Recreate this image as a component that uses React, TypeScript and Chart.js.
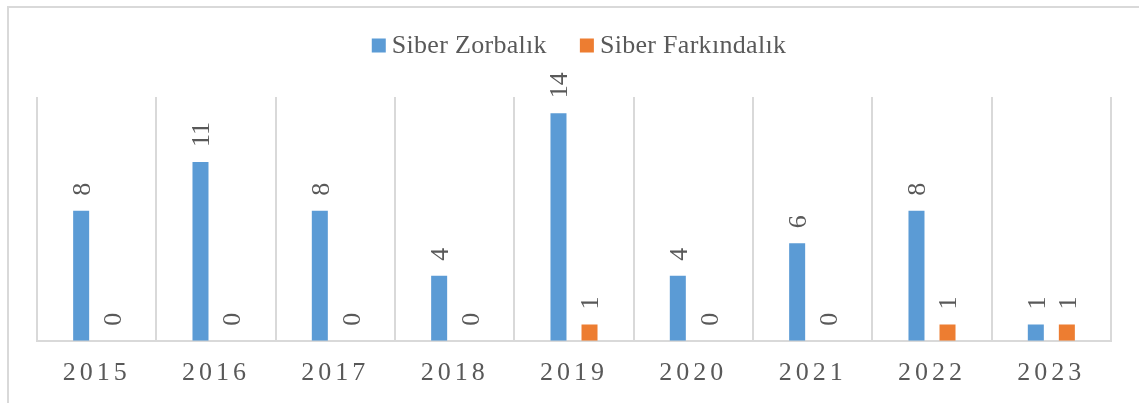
import React, { useEffect, useRef } from "react";
import { Chart, registerables } from "chart.js";

Chart.register(...registerables);

const categories = ["2015", "2016", "2017", "2018", "2019", "2020", "2021", "2022", "2023"];
const siberZorbalik = [8, 11, 8, 4, 14, 4, 6, 8, 1];
const siberFarkindalik = [0, 0, 0, 0, 1, 0, 0, 1, 1];
const seriesNames = ["Siber Zorbalık", "Siber Farkındalık"];
const seriesColors = ["#5B9BD5", "#ED7D31"];

const FONT = "'Liberation Serif', 'Times New Roman', serif";
const TEXT = "#595959";
const GRID = "#d9d9d9";

const frameAndSpacing = {
  id: "frameAndSpacing",
  beforeDraw(chart: any) {
    const ctx = chart.ctx;
    ctx.save();
    ctx.strokeStyle = GRID;
    ctx.lineWidth = 2;
    ctx.beginPath();
    ctx.moveTo(8, chart.height);
    ctx.lineTo(8, 7);
    ctx.lineTo(chart.width, 7);
    ctx.stroke();
    ctx.restore();
    ctx.letterSpacing = "4px";
  },
  beforeDatasetsDraw(chart: any) {
    chart.ctx.letterSpacing = "0px";
  },
};

const valueLabels = {
  id: "valueLabels",
  afterDatasetsDraw(chart: any) {
    const ctx = chart.ctx;
    const size = 26;
    ctx.save();
    ctx.letterSpacing = "0px";
    ctx.font = `${size}px ${FONT}`;
    ctx.fillStyle = TEXT;
    ctx.textAlign = "left";
    ctx.textBaseline = "alphabetic";
    chart.data.datasets.forEach((ds: any, i: number) => {
      const meta = chart.getDatasetMeta(i);
      meta.data.forEach((el: any, j: number) => {
        const v = ds.data[j];
        ctx.save();
        ctx.translate(el.x, el.y - 15);
        ctx.rotate(-Math.PI / 2);
        ctx.fillText(String(v), 0, size * 0.34);
        ctx.restore();
      });
    });
    ctx.restore();
  },
};

const customLegend = {
  id: "customLegend",
  afterDraw(chart: any) {
    const ctx = chart.ctx;
    const size = 26;
    const box = 14;
    const textGap = 6;
    const itemGap = 33;
    ctx.save();
    ctx.letterSpacing = "0.3px";
    ctx.font = `${size}px ${FONT}`;
    const widths = seriesNames.map((n) => box + textGap + ctx.measureText(n).width);
    const total = widths.reduce((a, b) => a + b, 0) + itemGap * (seriesNames.length - 1);
    let x = chart.width / 2 + 9.5 - total / 2;
    const baseline = 53;
    seriesNames.forEach((n, i) => {
      ctx.fillStyle = seriesColors[i];
      ctx.fillRect(x, 38.5, box, box);
      ctx.fillStyle = TEXT;
      ctx.textAlign = "left";
      ctx.textBaseline = "alphabetic";
      ctx.fillText(n, x + box + textGap, baseline);
      x += widths[i] + itemGap;
    });
    ctx.restore();
  },
};

export default function App() {
  const ref = useRef<HTMLCanvasElement>(null);
  useEffect(() => {
    const canvas = ref.current!;
    const chart = new Chart(canvas, {
      type: "bar",
      data: {
        labels: categories,
        datasets: [
          { label: seriesNames[0], data: siberZorbalik, backgroundColor: seriesColors[0] },
          { label: seriesNames[1], data: siberFarkindalik, backgroundColor: seriesColors[1] },
        ],
      },
      options: {
        animation: false,
        responsive: false,
        events: [],
        layout: { padding: { left: 37, right: 28, top: 97, bottom: -3 } },
        datasets: { bar: { categoryPercentage: 0.52, barPercentage: 0.516 } },
        plugins: {
          legend: { display: false },
          tooltip: { enabled: false },
          title: { display: false },
        },
        scales: {
          x: {
            grid: { display: true, color: GRID, lineWidth: 2, drawTicks: false, offset: true },
            border: { display: true, color: GRID, width: 2 },
            ticks: { color: TEXT, font: { family: FONT, size: 26 }, padding: 17, maxRotation: 0 },
          },
          y: { display: false, min: 0, max: 15 },
        },
      },
      plugins: [frameAndSpacing, valueLabels, customLegend],
    });
    return () => chart.destroy();
  }, []);
  return (
    <div style={{ position: "absolute", left: 0, top: 0, width: 1139, height: 403, background: "#fff" }}>
      <canvas ref={ref} width={1139} height={403} style={{ display: "block" }} />
    </div>
  );
}
